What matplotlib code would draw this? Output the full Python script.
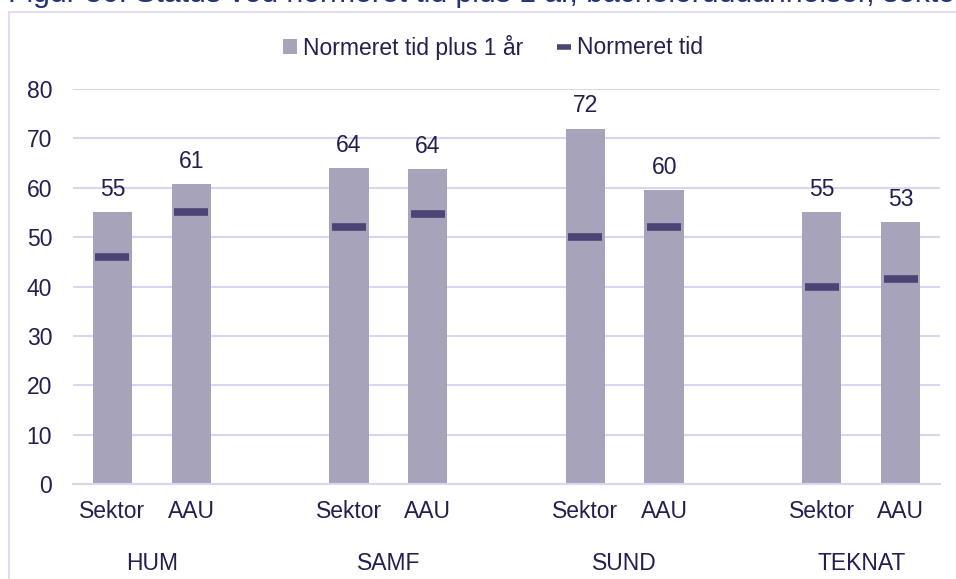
import matplotlib.pyplot as plt
from matplotlib.patches import Patch, Rectangle
from matplotlib.lines import Line2D

# Data -------------------------------------------------------------------
groups = ['HUM', 'SAMF', 'SUND', 'TEKNAT']
units = ['Sektor', 'AAU']
plus_1 = [55, 60.8, 64, 63.8, 72, 59.6, 55, 53]      # normeret tid plus 1 år
normeret = [46, 55, 52, 54.7, 50, 52, 40, 41.6]     # normeret tid

title = 'Figur 36: Status ved normeret tid plus 1 år, bacheloruddannelser, sektor og AAU'

# Farver
bar_col = '#a7a3bb'
mark_col = '#4b4576'
grid_col = '#d9d6f2'
txt_col = '#231f4f'
title_col = '#24337a'
fs = 16.5

plt.rcParams['font.family'] = ['Liberation Sans', 'DejaVu Sans']

fig = plt.figure(figsize=(9.56, 5.79), dpi=100)
W, H = 956, 579
ax = fig.add_axes([73 / W, (H - 484) / H, (940 - 73) / W, (484 - 89) / H])

# positioner: to søjler pr. gruppe, tom plads imellem
xpos = []
for g in range(len(groups)):
    xpos += [3 * g, 3 * g + 1]

ax.bar(xpos, plus_1, width=0.5, color=bar_col, zorder=2)
ax.plot(xpos, normeret, ls='none', marker='_', ms=24, mew=5.5,
        color=mark_col, zorder=3)

for x, v in zip(xpos, plus_1):
    ax.text(x, v + 4.6, f'{v:.0f}', ha='center', va='center',
            fontsize=fs, color=txt_col)

ax.set_xlim(-0.5, 10.5)
ax.set_ylim(0, 80)
ax.set_yticks(range(0, 81, 10))
ax.yaxis.grid(True, color=grid_col, lw=1.5, zorder=0)
ax.set_axisbelow(True)
for s in ['top', 'right', 'left']:
    ax.spines[s].set_visible(False)
ax.spines['bottom'].set_color(grid_col)
ax.spines['bottom'].set_linewidth(1.5)

ax.set_xticks([])
ax.tick_params(axis='y', length=0, pad=15, labelsize=fs, labelcolor=txt_col)

# kategorietiketter i to niveauer
xt = ax.get_xaxis_transform()
for x, name in zip(xpos, units * len(groups)):
    ax.text(x, -27 / 395, name, transform=xt, ha='center', va='center',
            fontsize=fs, color=txt_col)
for g, name in enumerate(groups):
    ax.text(3 * g + 0.5, -79 / 395, name, transform=xt,
            ha='center', va='center', fontsize=fs, color=txt_col)

# Forklaring
handles = [Patch(facecolor=bar_col, edgecolor='none'),
           Line2D([], [], ls='none', marker='_', ms=10, mew=4, color=mark_col)]
fig.legend(handles, ['Normeret tid plus 1 år', 'Normeret tid'], ncol=2,
           loc='center', bbox_to_anchor=(493 / W, 1 - 47 / H), frameon=False,
           fontsize=fs, labelcolor=txt_col, handlelength=0.6, handleheight=0.6,
           handletextpad=0.25, columnspacing=1.5)

# ramme om figuren og titel
fig.add_artist(Rectangle((9 / W, -0.1), 1.2, 1.1 - 12 / H, transform=fig.transFigure,
                         fill=False, ec=grid_col, lw=1.2))
fig.text(8 / W, 1 - 2.5 / H, title, ha='left', va='baseline', fontsize=21.7,
         color=title_col)

fig.savefig('out.png', dpi=100)
